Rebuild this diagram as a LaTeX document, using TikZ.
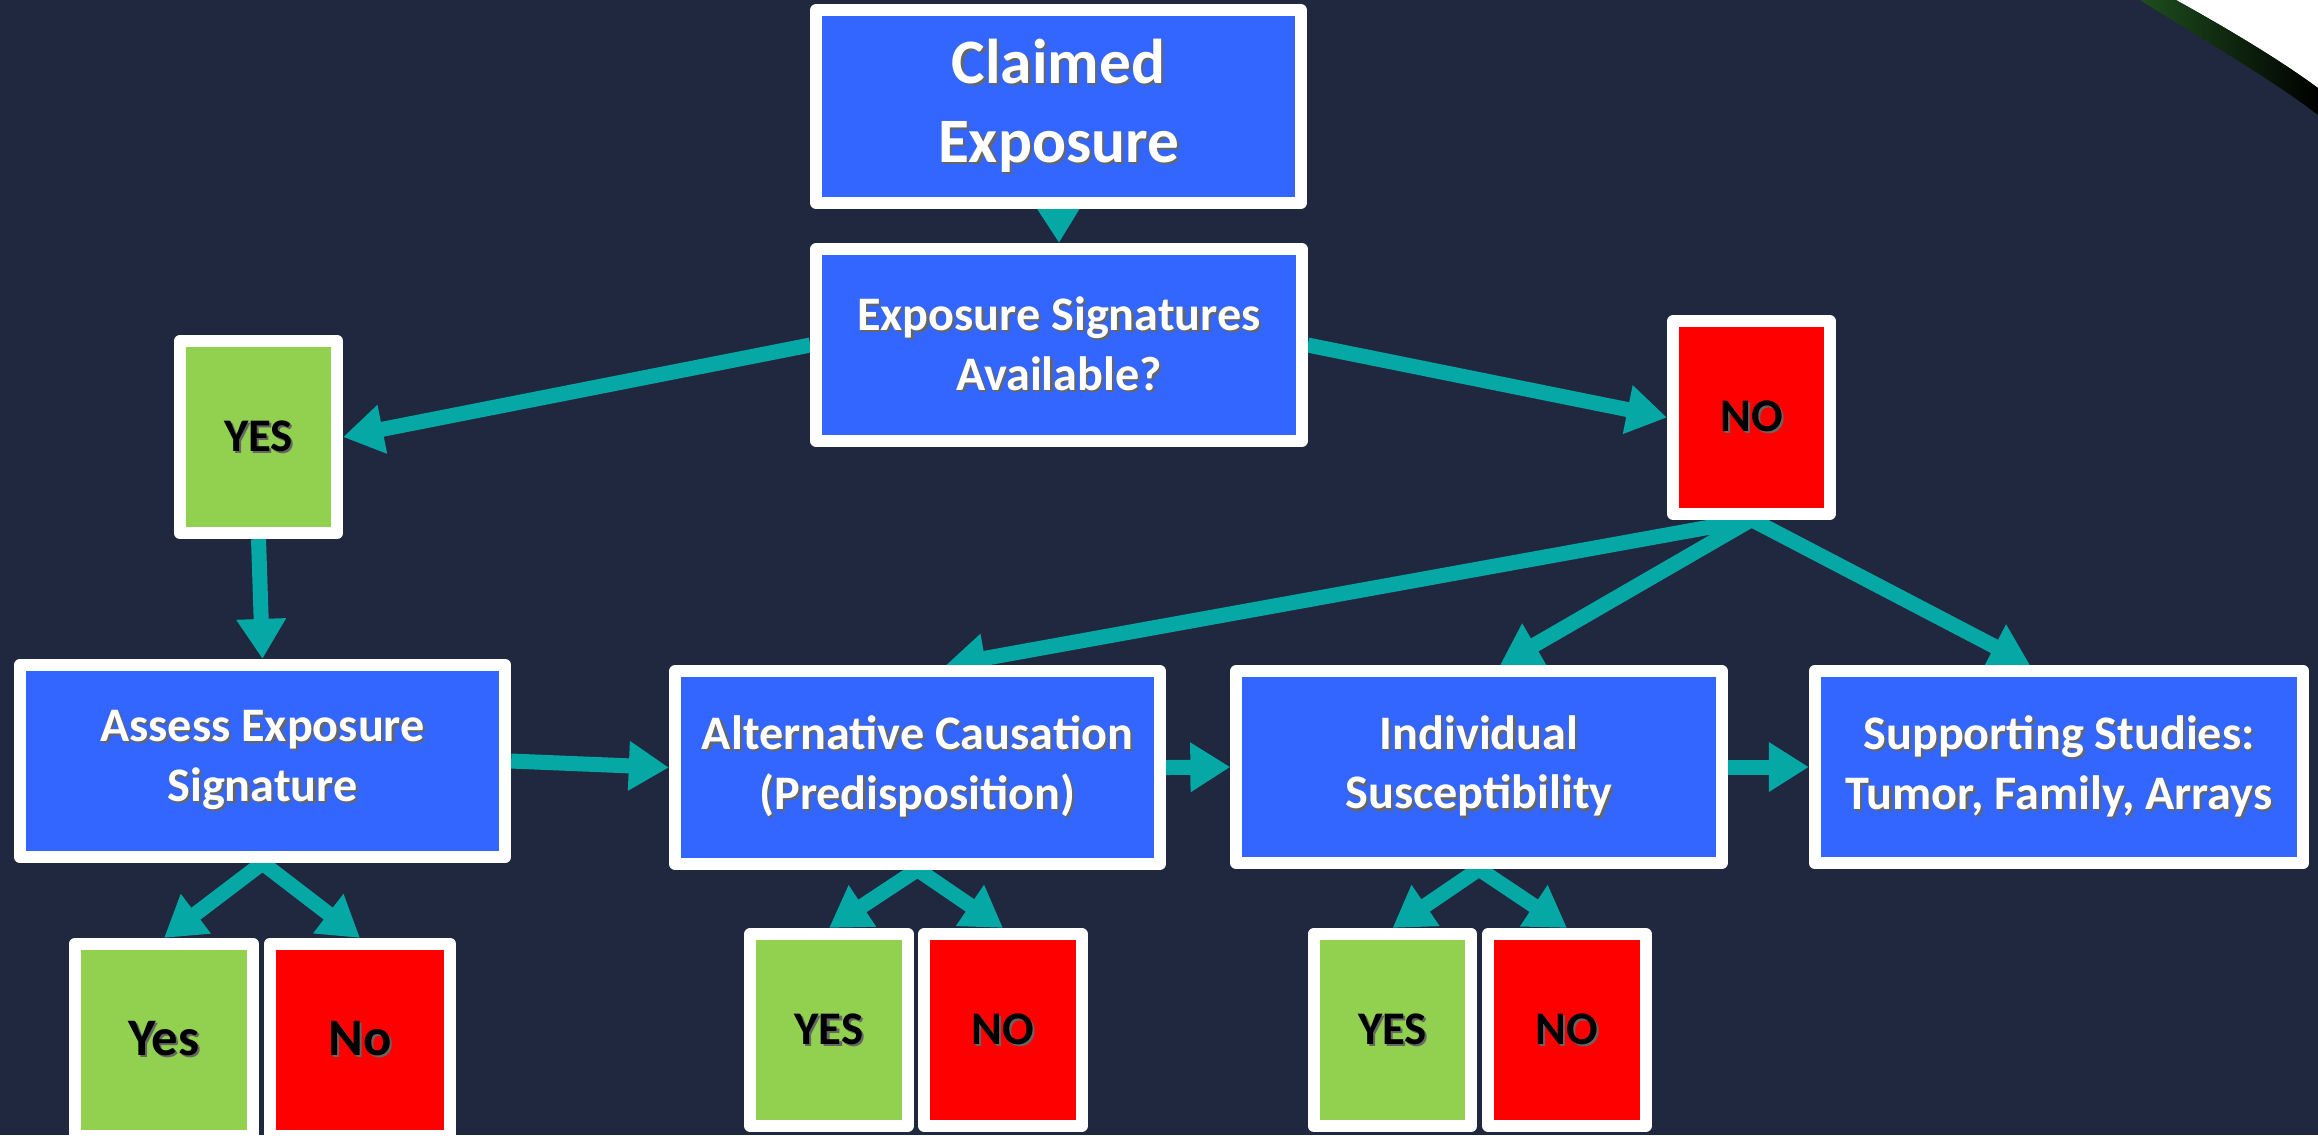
\documentclass[tikz,border=0pt]{standalone}
\usepackage{fontspec}
\setmainfont{Carlito}
\usetikzlibrary{arrows.meta,backgrounds}
\definecolor{bgnavy}{RGB}{32,40,64}
\definecolor{boxblue}{RGB}{51,102,255}
\definecolor{yesgreen}{RGB}{146,208,80}
\definecolor{nored}{RGB}{255,0,0}
\definecolor{linkteal}{RGB}{5,168,165}
\definecolor{rimgreen}{RGB}{30,78,30}
\newcommand{\txtsh}[1]{\leavevmode\rlap{\kern0.6pt\raisebox{-0.6pt}{\textcolor{black!60}{#1}}}#1}

\begin{document}
\begin{tikzpicture}[x=0.01cm, y=-0.01cm,
    box/.style={draw=white, line width=0.12cm, line join=round, inner sep=0pt, align=center},
    bluebox/.style={box, fill=boxblue, text=white, minimum width=4.85cm, minimum height=1.92cm,
        font=\fontsize{13.7}{17}\selectfont\bfseries},
    yesbox/.style={box, fill=yesgreen, text=black, minimum width=1.57cm, minimum height=1.92cm,
        font=\fontsize{13.3}{15}\selectfont\bfseries},
    nobox/.style={yesbox, fill=nored},
    link/.style={line width=0.15cm, draw=linkteal, -{Triangle[length=0.4cm,width=0.47cm]}}]
    \useasboundingbox (0,0) rectangle (2318,1135);

    % top row
    \node[bluebox, font=\fontsize{18}{22.5}\selectfont\bfseries] (claimed) at (1058.5,106.5) {\txtsh{Claimed}\\\txtsh{Exposure}};
    \node[bluebox] (sig) at (1059,345) {\txtsh{Exposure Signatures}\\\txtsh{Available?}};
    \node[yesbox] (yes) at (258.5,437) {\txtsh{YES}};
    \node[nobox] (no) at (1751.5,417.5) {\txtsh{NO}};

    % middle row
    \node[bluebox] (assess) at (262.5,761) {\txtsh{Assess Exposure}\\\txtsh{Signature}};
    \node[bluebox] (alt) at (917.5,767.5) {\txtsh{Alternative Causation}\\\txtsh{(Predisposition)}};
    \node[bluebox] (indiv) at (1479,767) {\txtsh{Individual}\\\txtsh{Susceptibility}};
    \node[bluebox, minimum width=4.88cm] (support) at (2059,767) {\txtsh{Supporting Studies:}\\\txtsh{Tumor, Family, Arrays}};

    % bottom row
    \node[yesbox, minimum width=1.78cm, font=\fontsize{15}{17}\selectfont\bfseries] (assessyes) at (164,1040) {\txtsh{Yes}};
    \node[nobox, minimum width=1.80cm, font=\fontsize{15}{17}\selectfont\bfseries] (assessno) at (360,1040) {\txtsh{No}};
    \node[yesbox] (altyes) at (829,1030) {\txtsh{YES}};
    \node[nobox] (altno) at (1003,1030) {\txtsh{NO}};
    \node[yesbox] (indivyes) at (1392.5,1030) {\txtsh{YES}};
    \node[nobox] (indivno) at (1567,1030) {\txtsh{NO}};

    \begin{scope}[on background layer]
        \fill[bgnavy] (0,0) rectangle (2318,1135);
        % corner of the slide
        \fill[white] (2176,0) .. controls (2230,30) and (2280,60) .. (2318,88) -- (2318,0) -- cycle;
        \shade[left color=rimgreen, right color=black] (2176,0) .. controls (2230,30) and (2280,60) .. (2318,88)
            -- (2318,115) .. controls (2270,78) and (2200,38) .. (2140,0) -- cycle;

        % connectors
        \draw[link] (claimed.south) -- (sig.north);
        \draw[link] (sig.west) -- (yes.east);
        \draw[link] (sig.east) -- (no.west);
        \draw[link] (yes.south) -- (assess.north);
        \draw[link] (no.south) -- ([xshift=0.28cm]alt.north);
        \draw[link] (no.south) -- ([xshift=0.21cm]indiv.north);
        \draw[link] (no.south) -- ([xshift=-0.29cm]support.north);
        \draw[link] (assess.east) -- (alt.west);
        \draw[link] (alt.east) -- (indiv.west);
        \draw[link] (indiv.east) -- (support.west);
        \draw[link] (assess.south) -- (assessyes.north);
        \draw[link] (assess.south) -- (assessno.north);
        \draw[link] (alt.south) -- (altyes.north);
        \draw[link] (alt.south) -- (altno.north);
        \draw[link] (indiv.south) -- (indivyes.north);
        \draw[link] (indiv.south) -- (indivno.north);
    \end{scope}
\end{tikzpicture}
\end{document}
